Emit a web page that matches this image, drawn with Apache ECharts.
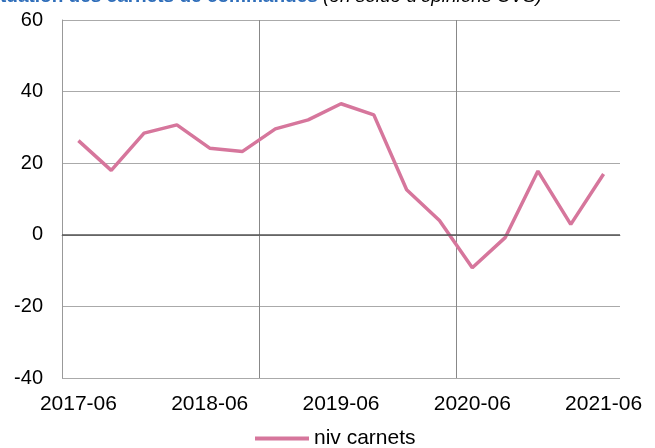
<!DOCTYPE html>
<html>
<head>
<meta charset="utf-8">
<script src="https://cdn.jsdelivr.net/npm/echarts@6/dist/echarts.min.js"></script>
<style>
  html, body { margin: 0; padding: 0; background: #fff; }
  #box { width: 655px; height: 448px; }
</style>
</head>
<body>
<div id="box"></div>
<script>
var dates = ['2017-06', '2017-09', '2017-12', '2018-03', '2018-06', '2018-09', '2018-12',
	'2019-03', '2019-06', '2019-09', '2019-12', '2020-03', '2020-06', '2020-09', '2020-12',
	'2021-03', '2021-06'];
var carnets = [26.3, 18.0, 28.4, 30.7, 24.2, 23.3, 29.6, 32.1, 36.6, 33.5, 12.6, 4.0, -9.2, -0.8, 17.8, 2.9, 17.0];
var seriesName = 'niv carnets';
var titleMain = 'Situation des carnets de commandes';
var titleSub = "(en solde d'opinions CVS)";

var font = 'Arial, "Liberation Sans", sans-serif';
var myChart = echarts.init(document.getElementById('box'));
var option = {
	animation: false,
	backgroundColor: '#fff',
	grid: { left: 62, right: 35, top: 20, bottom: 70 },
	graphic: [
		{ type: 'text', x: -18, y: 6, style: { text: titleMain, fill: '#2f6eba', font: 'bold 19px ' + font, verticalAlign: 'bottom' } },
		{ type: 'text', x: 323, y: 6, style: { text: titleSub, fill: '#000', font: 'italic 19px ' + font, verticalAlign: 'bottom' } }
	],
	legend: {
		top: 423,
		left: 250,
		padding: 5,
		icon: 'rect',
		itemWidth: 54,
		itemHeight: 4,
		textStyle: { fontFamily: font, fontSize: 21, color: '#000' },
		data: [seriesName]
	},
	xAxis: {
		type: 'category',
		data: dates,
		boundaryGap: true,
		axisLine: { lineStyle: { color: '#999', width: 1 } },
		axisTick: { show: false },
		axisLabel: { interval: 3, color: '#000', fontFamily: font, fontSize: 21, margin: 16 },
		splitLine: { show: true, interval: 5, showMaxLine: false, lineStyle: { color: '#888', width: 1 } }
	},
	yAxis: {
		type: 'value',
		min: -40,
		max: 60,
		interval: 20,
		axisLine: { show: true, lineStyle: { color: '#999', width: 1 } },
		axisTick: { show: false },
		axisLabel: { color: '#000', fontFamily: font, fontSize: 20, margin: 19 },
		splitLine: { lineStyle: { color: '#aaa', width: 1 } }
	},
	series: [{
		name: seriesName,
		type: 'line',
		data: carnets,
		symbol: 'none',
		lineStyle: { color: '#d6769c', width: 3.5 },
		itemStyle: { color: '#d6769c' },
		markLine: {
			silent: true,
			symbol: 'none',
			label: { show: false },
			lineStyle: { color: '#555', width: 1.5, type: 'solid' },
			data: [{ yAxis: 0 }]
		},
		z: 3
	}]
};
myChart.setOption(option);
</script>
</body>
</html>
